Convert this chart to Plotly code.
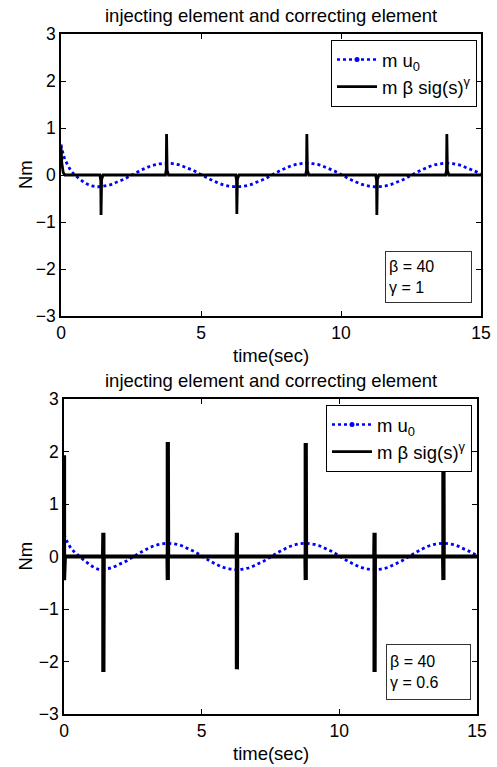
import plotly.graph_objects as go

# ---------------- data ----------------
# time grid for the injecting element m*u0
u0_t = [0, 0.1, 0.2, 0.35, 0.5, 0.7, 0.9, 1.1, 1.3, 1.5, 1.75, 2.0, 2.25, 2.5, 2.75,
        3.0, 3.25, 3.5, 3.75, 4.0, 4.25, 4.5, 4.75, 5.0, 5.25, 5.5, 5.75, 6.0, 6.25,
        6.5, 6.75, 7.0, 7.25, 7.5, 7.75, 8.0, 8.25, 8.5, 8.75, 9.0, 9.25, 9.5, 9.75,
        10.0, 10.25, 10.5, 10.75, 11.0, 11.25, 11.5, 11.75, 12.0, 12.25, 12.5, 12.75,
        13.0, 13.25, 13.5, 13.75, 14.0, 14.25, 14.5, 14.75, 15.0]

u0_top = [0.65, 0.40, 0.26, 0.10, 0.00, -0.10, -0.18, -0.23, -0.25, -0.24, -0.21,
          -0.15, -0.09, -0.01, 0.07, 0.14, 0.20, 0.235, 0.25, 0.24, 0.21, 0.15, 0.09,
          0.01, -0.07, -0.14, -0.20, -0.235, -0.25, -0.24, -0.21, -0.15, -0.09, -0.01,
          0.07, 0.14, 0.20, 0.235, 0.25, 0.24, 0.21, 0.15, 0.09, 0.01, -0.07, -0.14,
          -0.20, -0.235, -0.25, -0.24, -0.21, -0.15, -0.09, -0.01, 0.07, 0.14, 0.20,
          0.235, 0.25, 0.24, 0.21, 0.15, 0.09, 0.02]

u0_bot = [0.42, 0.30, 0.20, 0.10, 0.03, -0.06, -0.14, -0.21, -0.25, -0.24, -0.21,
          -0.15, -0.09, -0.01, 0.07, 0.14, 0.20, 0.235, 0.25, 0.24, 0.21, 0.15, 0.09,
          0.01, -0.07, -0.14, -0.20, -0.235, -0.25, -0.24, -0.21, -0.15, -0.09, -0.01,
          0.07, 0.14, 0.20, 0.235, 0.25, 0.24, 0.21, 0.15, 0.09, 0.01, -0.07, -0.14,
          -0.20, -0.235, -0.25, -0.24, -0.21, -0.15, -0.09, -0.01, 0.07, 0.14, 0.20,
          0.235, 0.25, 0.24, 0.21, 0.15, 0.09, 0.02]

# correcting element m*beta*sig(s)^gamma, gamma = 1
sig_top_t = [0, 0.03, 0.08, 0.14,
             1.39, 1.42, 1.43, 1.45, 1.50,
             3.73, 3.76, 3.77, 3.79, 3.84,
             6.24, 6.27, 6.28, 6.30, 6.35,
             8.74, 8.77, 8.78, 8.80, 8.85,
             11.24, 11.27, 11.28, 11.30, 11.35,
             13.74, 13.77, 13.78, 13.80, 13.85,
             15.0]
sig_top = [0.60, 0.25, 0.05, 0.0,
           0.0, -0.12, -0.85, -0.10, 0.0,
           0.0, 0.12, 0.87, 0.10, 0.0,
           0.0, -0.12, -0.83, -0.10, 0.0,
           0.0, 0.12, 0.87, 0.10, 0.0,
           0.0, -0.12, -0.85, -0.10, 0.0,
           0.0, 0.12, 0.87, 0.10, 0.0,
           0.0]

# correcting element, gamma = 0.6
sig_bot_t = [0.0, 0.0, 0.03,
             1.42, 1.43, 1.43, 1.44,
             3.76, 3.77, 3.77, 3.78,
             6.27, 6.28, 6.28, 6.29,
             8.77, 8.78, 8.78, 8.79,
             11.27, 11.28, 11.28, 11.29,
             13.77, 13.78, 13.78, 13.79,
             15.0]
sig_bot = [1.93, -0.45, 0.0,
           0.0, 0.45, -2.20, 0.0,
           0.0, -0.45, 2.18, 0.0,
           0.0, 0.45, -2.15, 0.0,
           0.0, -0.45, 2.16, 0.0,
           0.0, 0.45, -2.20, 0.0,
           0.0, -0.45, 2.15, 0.0,
           0.0]

x_ticks = [0, 5, 10, 15]
y_ticks = [-3, -2, -1, 0, 1, 2, 3]
title_text = "injecting element and correcting element"
legend_u0 = "m u<sub>0</sub>"
legend_sig = "m β sig(s)<sup>γ</sup>"
param_top = "β = 40<br>γ = 1"
param_bot = "β = 40<br>γ = 0.6"

# ---------------- figure ----------------
W, H = 497, 767
FONT = "Liberation Sans, Arial, sans-serif"
BLUE = "#0000ff"

fig = go.Figure()

# top panel
fig.add_trace(go.Scatter(x=u0_t, y=u0_top, mode="lines", xaxis="x", yaxis="y",
                         line=dict(color=BLUE, width=2.8, dash="dot", shape="spline"),
                         showlegend=False))
fig.add_trace(go.Scatter(x=sig_top_t, y=sig_top, mode="lines", xaxis="x", yaxis="y",
                         line=dict(color="black", width=2.8), showlegend=False))
fig.add_trace(go.Scatter(x=[None], y=[None], mode="lines+markers", name=legend_u0,
                         xaxis="x", yaxis="y", legend="legend",
                         line=dict(color=BLUE, width=2.6, dash="dot"),
                         marker=dict(color=BLUE, size=5)))
fig.add_trace(go.Scatter(x=[None], y=[None], mode="lines", name=legend_sig,
                         xaxis="x", yaxis="y", legend="legend",
                         line=dict(color="black", width=2.6)))

# bottom panel
fig.add_trace(go.Scatter(x=u0_t, y=u0_bot, mode="lines", xaxis="x2", yaxis="y2",
                         line=dict(color=BLUE, width=2.8, dash="dot", shape="spline"),
                         showlegend=False))
fig.add_trace(go.Scatter(x=sig_bot_t, y=sig_bot, mode="lines", xaxis="x2", yaxis="y2",
                         line=dict(color="black", width=4.2), showlegend=False))
fig.add_trace(go.Scatter(x=[None], y=[None], mode="lines+markers", name=legend_u0,
                         xaxis="x2", yaxis="y2", legend="legend2",
                         line=dict(color=BLUE, width=2.6, dash="dot"),
                         marker=dict(color=BLUE, size=5)))
fig.add_trace(go.Scatter(x=[None], y=[None], mode="lines", name=legend_sig,
                         xaxis="x2", yaxis="y2", legend="legend2",
                         line=dict(color="black", width=2.6)))

# panel geometry in pixels
top_px = dict(l=61, r=481, t=34, b=316)
bot_px = dict(l=64, r=477, t=399, b=714)


def dom_x(p):
    return [p["l"] / W, p["r"] / W]


def dom_y(p):
    return [1 - p["b"] / H, 1 - p["t"] / H]


axis_common = dict(showline=True, linecolor="black", linewidth=1.5, mirror="allticks",
                   ticks="inside", ticklen=5, tickwidth=1, tickcolor="black",
                   showgrid=False, zeroline=False, automargin=False,
                   tickfont=dict(family=FONT, size=17.5, color="black"))

fig.update_layout(
    width=W, height=H,
    margin=dict(l=0, r=0, t=0, b=0),
    paper_bgcolor="white", plot_bgcolor="white",
    font=dict(family=FONT, size=17, color="black"),
    xaxis=dict(domain=dom_x(top_px), anchor="y", range=[0, 15], tickvals=x_ticks, **axis_common),
    yaxis=dict(domain=dom_y(top_px), anchor="x", range=[-3, 3], tickvals=y_ticks, **axis_common),
    xaxis2=dict(domain=dom_x(bot_px), anchor="y2", range=[0, 15], tickvals=x_ticks, **axis_common),
    yaxis2=dict(domain=dom_y(bot_px), anchor="x2", range=[-3, 3], tickvals=y_ticks, **axis_common),
    legend=dict(x=477 / W, xanchor="right", y=1 - 40 / H, yanchor="top",
                bgcolor="white", bordercolor="black", borderwidth=1,
                font=dict(family=FONT, size=18.5, color="black"), itemwidth=40,
                tracegroupgap=0),
    legend2=dict(x=472 / W, xanchor="right", y=1 - 405 / H, yanchor="top",
                 bgcolor="white", bordercolor="black", borderwidth=1,
                 font=dict(family=FONT, size=18.5, color="black"), itemwidth=40,
                 tracegroupgap=0),
)

annots = []
for p in (top_px, bot_px):
    cx = (p["l"] + p["r"]) / 2 / W
    annots.append(dict(text=title_text, xref="paper", yref="paper", x=cx,
                       y=1 - (p["t"] - 19) / H, xanchor="center", yanchor="middle",
                       showarrow=False, font=dict(family=FONT, size=18.5)))
    annots.append(dict(text="time(sec)", xref="paper", yref="paper", x=cx,
                       y=1 - (p["b"] + 39) / H, xanchor="center", yanchor="middle",
                       showarrow=False, font=dict(family=FONT, size=18.5)))
    annots.append(dict(text="Nm", xref="paper", yref="paper", x=25 / W,
                       y=1 - ((p["t"] + p["b"]) / 2) / H, xanchor="center", yanchor="middle",
                       textangle=-90, showarrow=False, font=dict(family=FONT, size=18.5)))

annots.append(dict(text=param_top, xref="paper", yref="paper", x=385 / W, y=1 - 251 / H,
                   xanchor="left", yanchor="top", align="left", valign="middle",
                   showarrow=False, width=79, height=44, borderpad=3,
                   bordercolor="#333333", borderwidth=1, bgcolor="white",
                   font=dict(family=FONT, size=16)))
annots.append(dict(text=param_bot, xref="paper", yref="paper", x=386 / W, y=1 - 644 / H,
                   xanchor="left", yanchor="top", align="left", valign="middle",
                   showarrow=False, width=77, height=48, borderpad=3,
                   bordercolor="#333333", borderwidth=1, bgcolor="white",
                   font=dict(family=FONT, size=16)))

fig.update_layout(annotations=annots)

fig.write_html("out.html")
